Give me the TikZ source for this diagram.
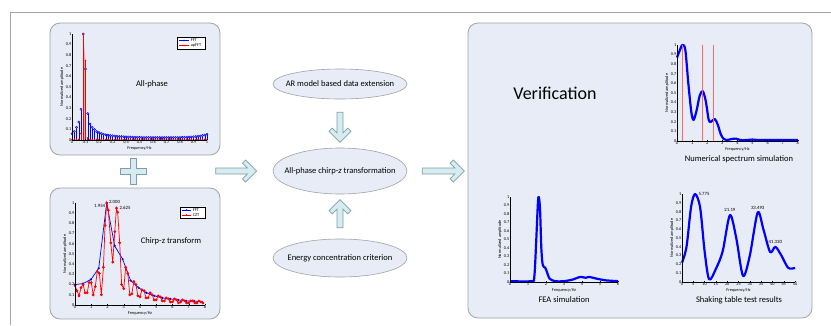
\documentclass[tikz,border=0pt]{standalone}
\usepackage{fontspec}
\setmainfont{Carlito}
\usetikzlibrary{shapes.geometric}

\definecolor{panelfill}{RGB}{231,236,246}
\definecolor{panelline}{RGB}{160,162,168}
\definecolor{arrowfill}{RGB}{214,236,240}
\definecolor{arrowline}{RGB}{125,158,170}
\definecolor{frameline}{RGB}{165,165,165}

\tikzset{
  panel/.style={draw=panelline, fill=panelfill, rounded corners=10pt, line width=0.8pt},
  oval/.style={ellipse, draw=panelline, fill=panelfill, line width=0.6pt, minimum width=134pt,
    inner xsep=-8.5pt, inner ysep=0pt, font=\fontsize{8.5}{10}\selectfont},
  arrowbody/.style={draw=arrowline, fill=arrowfill, line width=0.7pt, line join=miter},
  axisline/.style={black, line width=0.4pt},
  ticklab/.style={font=\fontsize{4.3}{4.5}\selectfont, inner sep=0.6pt},
  axlab/.style={font=\fontsize{4.3}{4.5}\selectfont, inner sep=0pt},
  caption/.style={font=\fontsize{8.5}{10}\selectfont},
  peaklab/.style={font=\fontsize{4.8}{5}\selectfont, inner sep=0.5pt},
  fftline/.style={blue, line width=0.7pt, mark=*, mark size=0.7pt},
  cztline/.style={red, line width=0.7pt, mark=*, mark size=1pt},
  beads/.style={blue, line width=2.2pt, line join=round},
  pics/fatarrow/.style={code={
    \draw[arrowbody] (0,3) -- ({#1-9.4},3) -- ({#1-14.2},7.8) -- ({#1-11},11) -- (#1,0)
      -- ({#1-11},-11) -- ({#1-14.2},-7.8) -- ({#1-9.4},-3) -- (0,-3) -- cycle;
  }}
}

% axes of one amplitude plot: #1 = x max, #2 = x ticks
\newcommand{\ampaxes}[2]{%
  \draw[axisline] (0,1) -- (0,0) -- (#1,0);
  \foreach \i in {0,...,10} {
    \draw[axisline] (0,\i/10) -- ++(1.2pt,0pt);
    \node[ticklab, left] at (0,\i/10) {\ifnum\i=0 0\else\ifnum\i=10 1\else 0.\i\fi\fi};
  }
  \foreach \x in {#2} {
    \draw[axisline] (\x,0) -- ++(0pt,1.2pt);
    \node[ticklab, below] at (\x,0) {\x};
  }
  \node[axlab, rotate=90] at ([xshift=-10pt]0,0.5) {Normalized amplitude};
  \node[axlab] at ([yshift=-8.5pt]#1/2,0) {Frequency/Hz};
}

\begin{document}
\begin{tikzpicture}[x=1pt, y=-1pt]
\useasboundingbox (0,0) rectangle (831,325);

\draw[frameline, line width=0.8pt] (831,12) -- (10,12) -- (10,325);

% left side
\draw[panel] (50,23) rectangle (220,155);
\draw[panel] (50,188) rectangle (220,319);
\node[caption] (allphase) at (152,84) {All-phase};
\node[caption] (chirpz) at (171,241) {Chirp-z transform};

\draw[arrowbody] (130.5,158) -- ++(6,0) -- ++(0,10) -- ++(10,0) -- ++(0,6.5) -- ++(-10,0)
  -- ++(0,10) -- ++(-6,0) -- ++(0,-10) -- ++(-10,0) -- ++(0,-6.5) -- ++(10,0) -- cycle;

% all-phase spectrum
\begin{scope}[shift={(72,140)}, x=135pt, y=106pt]
\fill[red!35] (0.0833,0) -- (0.0833,1) -- (0.1,0.75) -- (0.1,0) -- cycle;
\foreach \k in {0,...,60} {
  \pgfmathsetmacro{\f}{\k/60}
  \ifnum\k<11
    \pgfmathsetmacro{\v}{{0.06,0.08,0.12,0.17,0.29,1,0.67,0.25,0.15,0.12,0.1}[\k]}
  \else
    \pgfmathsetmacro{\v}{0.0075/(\f-0.085)+0.004/(1.085-\f)}
  \fi
  \draw[blue, line width=0.4pt] (\f,0) -- (\f,\v);
  \draw[blue, fill=blue!45, line width=0.4pt] (\f,\v) circle (1.1pt);
}
\foreach \k in {0,...,60} {
  \pgfmathsetmacro{\f}{\k/60}
  \pgfmathsetmacro{\v}{\k==4 ? 0.06 : (\k==5 ? 1 : (\k==6 ? 0.75 : (\k==7 ? 0.02 : 0.005)))}
  \draw[red, line width=0.6pt] (\f,0) -- (\f,\v);
  \fill[red] (\f,\v) circle (0.9pt);
}
\ampaxes{1}{0,0.1,0.2,0.3,0.4,0.5,0.6,0.7,0.8,0.9,1}
\end{scope}
\draw[fill=white, line width=0.4pt] (177,37) rectangle (205,49);
\draw[blue, line width=0.6pt] (179,40.5) -- (189,40.5);
\fill[blue] (184,40.5) circle (0.9pt);
\node[ticklab, anchor=west] at (190,40.5) {FFT};
\draw[red, line width=0.6pt] (179,45.5) -- (189,45.5);
\fill[red] (184,45.5) circle (0.9pt);
\node[ticklab, anchor=west] at (190,45.5) {apFFT};

% chirp-z spectrum
\begin{scope}[shift={(75,305)}, x=16.25pt, y=102pt]
\draw[fftline] plot coordinates {(0,0.2) (0.49,0.21) (0.98,0.25) (1.46,0.36) (1.95,1.0)
  (2.44,0.58) (2.93,0.45) (3.42,0.24) (3.91,0.17) (4.39,0.12) (4.88,0.09) (5.37,0.07)
  (5.86,0.06) (6.35,0.05) (6.84,0.04) (7.32,0.04) (7.81,0.03)};
\draw[cztline] plot coordinates {(0,0.19) (0.12,0.14) (0.25,0.09) (0.37,0.17) (0.5,0.2)
  (0.62,0.12) (0.75,0.12) (0.87,0.22) (1,0.22) (1.12,0.1) (1.25,0.18) (1.37,0.33)
  (1.5,0.31) (1.62,0.1) (1.75,0.37) (1.85,0.78) (1.954,1.0) (2.05,0.93) (2.2,0.61)
  (2.32,0.42) (2.45,0.72) (2.55,0.95) (2.625,0.91) (2.75,0.61) (2.87,0.2) (3.0,0.16)
  (3.12,0.37) (3.25,0.31) (3.37,0.1) (3.5,0.11) (3.62,0.23) (3.75,0.2) (3.87,0.09)
  (4.0,0.08) (4.12,0.15) (4.25,0.14) (4.37,0.07) (4.5,0.07) (4.62,0.12) (4.75,0.1)
  (4.87,0.05) (5,0.05) (5.12,0.09) (5.25,0.08) (5.37,0.04) (5.5,0.04) (5.62,0.07)
  (5.75,0.06) (5.87,0.03) (6,0.03) (6.12,0.06) (6.25,0.05) (6.37,0.02) (6.5,0.03)
  (6.62,0.05) (6.75,0.04) (6.87,0.02) (7,0.02) (7.12,0.04) (7.25,0.04) (7.37,0.02)
  (7.5,0.02) (7.62,0.04) (7.75,0.03) (7.87,0.02)};
\node[peaklab, anchor=east] at (1.9,0.97) {1.954};
\node[peaklab, anchor=west] at (2.05,1.01) {2.000};
\node[peaklab, anchor=west] at (2.7,0.95) {2.625};
\ampaxes{8}{0,1,2,3,4,5,6,7,8}
\end{scope}
\draw[fill=white, line width=0.4pt] (180,207) rectangle (205,218);
\draw[blue, line width=0.6pt] (182,210) -- (191,210);
\fill[blue] (186.5,210) circle (0.8pt);
\node[ticklab, anchor=west] at (192,210) {FFT};
\draw[red, line width=0.6pt] (182,215) -- (191,215);
\fill[red] (186.5,215) circle (0.9pt);
\node[ticklab, anchor=west] at (192,215) {CZT};

% middle
\node[oval, minimum height=30pt] (ar) at (340,84) {AR model based data extension};
\node[oval, minimum height=46pt] (apczt) at (340,171) {All-phase chirp-\textit{z} transformation};
\node[oval, minimum height=38pt] (energy) at (340,258) {Energy concentration criterion};

\pic[rotate=-90] at ([yshift=-13pt]ar.south) {fatarrow=30};
\pic[rotate=90] at ([yshift=11pt]energy.north) {fatarrow=28};
\pic at ([xshift=-57pt]apczt.west) {fatarrow=41};
\pic at ([xshift=15pt]apczt.east) {fatarrow=42};

% verification
\draw[panel] (468,23) rectangle (812,318);
\node[font=\fontsize{18}{20}\selectfont] (verif) at (555,93) {Verification};

\begin{scope}[shift={(677,141)}, x=15.1pt, y=96pt]
\draw[beads] plot[smooth] coordinates {(0,0.87) (0.15,0.93) (0.35,1.0) (0.55,0.95)
  (0.75,0.6) (0.95,0.3) (1.1,0.22) (1.3,0.32) (1.5,0.47) (1.7,0.52) (1.9,0.42) (2.1,0.22)
  (2.25,0.2) (2.5,0.23) (2.7,0.17) (2.9,0.07) (3.1,0.02) (3.3,0.01) (3.6,0.02) (3.9,0.025)
  (4.2,0.01) (4.6,0.01) (5.0,0.015) (5.4,0.01) (6,0.01) (7,0.01) (8,0.01)};
\foreach \x in {0.35,1.65,2.4}
  \draw[red!60, line width=0.8pt] (\x,0) -- (\x,1);
\ampaxes{8}{0,1,2,3,4,5,6,7,8}
\end{scope}
\node[caption] (numsim) at (739,159) {Numerical spectrum simulation};

\begin{scope}[shift={(510,282)}, x=18pt, y=85pt]
\draw[beads] plot[smooth] coordinates {(0,0.01) (1.2,0.01) (1.35,0.06) (1.45,0.45)
  (1.55,0.93) (1.6,1.0) (1.67,0.85) (1.74,0.4) (1.82,0.2) (1.95,0.17) (2.05,0.12)
  (2.2,0.04) (2.5,0.01) (3,0.01) (3.5,0.03) (3.9,0.06) (4.2,0.05) (4.4,0.06) (4.8,0.04)
  (5.3,0.02) (6,0.01)};
\ampaxes{6}{0,1,2,3,4,5,6}
\end{scope}
\node[caption] (fea) at (564,300) {FEA simulation};

\begin{scope}[shift={(682,282)}, x=2.26pt, y=88pt]
\draw[beads] plot[smooth] coordinates {(0,0.22) (2,0.4) (4,0.85) (5.775,1.0) (8,0.85)
  (10,0.35) (12,0.03) (15,0.15) (18,0.35) (21.2,0.76) (24,0.5) (27,0.07) (30,0.3)
  (33.5,0.79) (36,0.6) (39,0.34) (41.3,0.4) (44,0.3) (47,0.16) (50,0.16)};
\node[peaklab, anchor=west] at (7,1.0) {5.775};
\node[peaklab, above] at (21.2,0.79) {21.19};
\node[peaklab, above] at (33.5,0.82) {33.493};
\node[peaklab, above] at (41.3,0.43) {41.330};
\ampaxes{50}{0,5,10,15,20,25,30,35,40,45,50}
\end{scope}
\node[caption] (shaking) at (739,300) {Shaking table test results};

\end{tikzpicture}
\end{document}
